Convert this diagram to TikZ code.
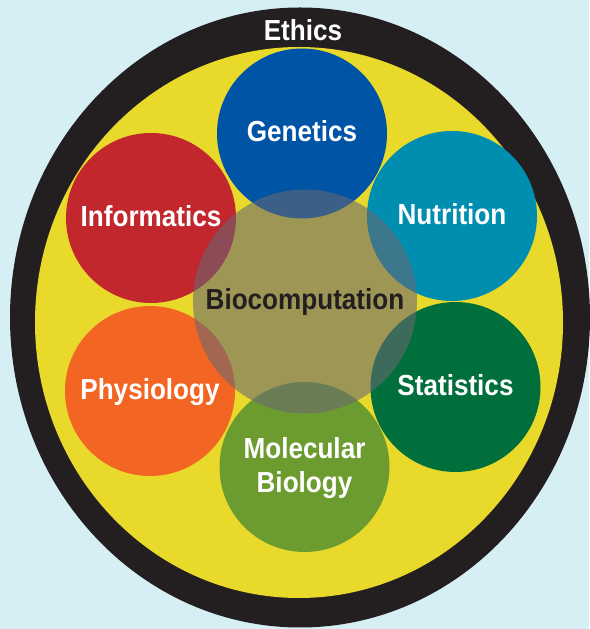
\documentclass[tikz,border=0pt]{standalone}
\usepackage{fontspec}
\setmainfont{Liberation Sans}[FakeStretch=0.9]
\usepackage{tikz}
\usetikzlibrary{positioning}
\usepackage{xcolor}

\definecolor{sky}{RGB}{214,239,245}
\definecolor{ring}{RGB}{35,31,32}
\definecolor{sun}{RGB}{232,217,42}
\definecolor{genblue}{RGB}{0,84,166}
\definecolor{nutblue}{RGB}{0,142,176}
\definecolor{infred}{RGB}{193,39,45}
\definecolor{phyorange}{RGB}{242,101,34}
\definecolor{statgreen}{RGB}{0,111,60}
\definecolor{molgreen}{RGB}{108,156,47}
\definecolor{hubgray}{RGB}{105,103,115}

\begin{document}
\begin{tikzpicture}[
    x=1pt, y=1pt,
    every node/.style={font=\bfseries\fontsize{29}{34}\selectfont, align=center, text height=17pt, text depth=0pt},
    subject/.style={circle, minimum size=170, inner sep=0pt, text=white}
]
    \useasboundingbox[fill=sky] (0,0) rectangle (589,629);
    \fill[ring] (300,311.5) ellipse [x radius=290, y radius=310];
    \fill[sun] (299,306.5) ellipse [x radius=264, y radius=275.5];

    \node (ethics) [text=white] at (303,597) {Ethics};

    \node (genetics) [subject, fill=genblue] at (302,495.5) {Genetics};
    \node (informatics) [subject, fill=infred] at (151,411) {Informatics};
    \node (nutrition) [subject, fill=nutblue] at (452,413) {Nutrition};
    \node (physiology) [subject, fill=phyorange] at (150,238) {Physiology};
    \node (statistics) [subject, fill=statgreen] at (455.5,242) {Statistics};
    \node (molecular) [subject, fill=molgreen, text height=51pt] at (304.5,162) {Molecular\\Biology};

    \node (biocomp) [circle, minimum size=224, inner sep=0pt, fill=hubgray, fill opacity=0.58, text opacity=1, text=ring] at (305,327.5) {Biocomputation};
\end{tikzpicture}
\end{document}
